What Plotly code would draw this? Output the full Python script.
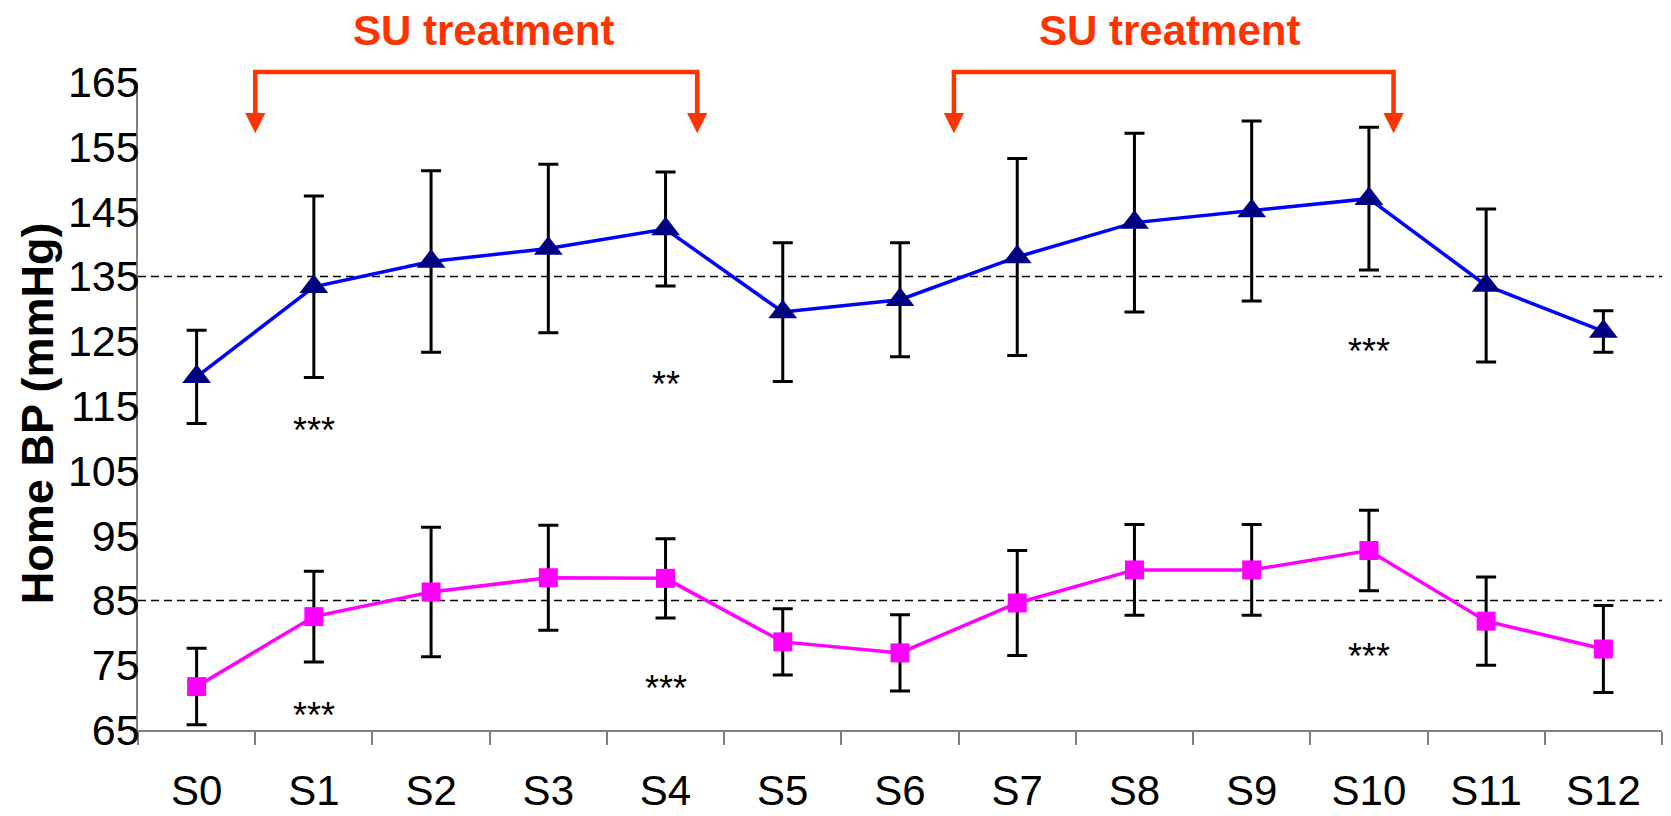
import plotly.graph_objects as go

# ---- data ----
categories = ["S0", "S1", "S2", "S3", "S4", "S5", "S6", "S7", "S8", "S9", "S10", "S11", "S12"]

sbp_mean = [119.5, 133.4, 137.3, 139.3, 142.3, 129.5, 131.4, 138.0, 143.3, 145.1, 147.0, 133.6, 126.5]
sbp_err = [7.2, 14.0, 14.0, 13.0, 8.8, 10.7, 8.8, 15.2, 13.8, 13.9, 11.0, 11.8, 3.2]

dbp_mean = [71.7, 82.5, 86.3, 88.5, 88.4, 78.6, 76.9, 84.6, 89.7, 89.7, 92.7, 81.8, 77.5]
dbp_err = [5.9, 7.0, 10.0, 8.1, 6.1, 5.1, 5.9, 8.1, 7.0, 7.0, 6.2, 6.8, 6.7]

y_ticks = [65, 75, 85, 95, 105, 115, 125, 135, 145, 155, 165]
y_range = [65, 165]
ref_lines = [135, 85]
y_title = "Home BP (mmHg)"

# significance marks: (category, y of glyph centre, text)
sig_sbp = [("S1", 112.4, "***"), ("S4", 119.5, "**"), ("S10", 124.6, "***")]
sig_dbp = [("S1", 68.4, "***"), ("S4", 72.6, "***"), ("S10", 77.6, "***")]

# treatment periods: (start, end) on the category scale, label position
treat_periods = [(0.5, 4.27), (6.46, 10.21)]
treat_label_x = [2.45, 8.3]
treat_label = "SU treatment"
arrow_tip_value = 157.1

FONT = "Arial, Liberation Sans, sans-serif"
RED = "#FF3300"

fig = go.Figure()

fig.add_trace(go.Scatter(
    x=categories, y=sbp_mean, mode="lines+markers",
    line=dict(color="#0000FF", width=3.5),
    marker=dict(symbol="triangle-up", size=25, color="#000080"),
    error_y=dict(type="data", array=sbp_err, visible=True,
                 color="black", thickness=3, width=10),
    cliponaxis=False, showlegend=False,
))
fig.add_trace(go.Scatter(
    x=categories, y=dbp_mean, mode="lines+markers",
    line=dict(color="#FF00FF", width=3.5),
    marker=dict(symbol="square", size=19, color="#FF00FF"),
    error_y=dict(type="data", array=dbp_err, visible=True,
                 color="black", thickness=3, width=10),
    cliponaxis=False, showlegend=False,
))

shapes = []
for v in ref_lines:
    shapes.append(dict(type="line", xref="paper", yref="y", x0=0, x1=1, y0=v, y1=v,
                       line=dict(color="black", width=1.5, dash="8px,5px"), layer="below"))

bracket_y = 1.0155
head_base_y = 0.946
annotations = []
for (x0, x1), lx in zip(treat_periods, treat_label_x):
    shapes.append(dict(type="path", xref="x", yref="paper",
                       path=f"M {x0},{head_base_y} L {x0},{bracket_y} L {x1},{bracket_y} L {x1},{head_base_y}",
                       line=dict(color=RED, width=4.5)))
    for xe in (x0, x1):
        annotations.append(dict(xref="x", yref="y", x=xe, y=arrow_tip_value, text="",
                                showarrow=True, axref="pixel", ayref="pixel", ax=0, ay=-22,
                                arrowhead=2, arrowsize=0.9, arrowwidth=4.5, arrowcolor=RED))
    annotations.append(dict(xref="x", yref="paper", x=lx, y=1.08, yanchor="middle",
                            text=treat_label, showarrow=False,
                            font=dict(family=FONT, size=42, color=RED, weight="bold")))

for cat, yv, t in sig_sbp + sig_dbp:
    annotations.append(dict(xref="x", yref="y", x=cat, y=yv, text=t, showarrow=False,
                            yshift=-8, font=dict(family=FONT, size=36, color="black")))

# y axis title as a rotated annotation for precise placement
annotations.append(dict(xref="paper", yref="paper", x=0, y=0.489, xshift=-101,
                        xanchor="center", yanchor="middle", textangle=-90,
                        text=y_title, showarrow=False,
                        font=dict(family=FONT, size=45, color="black", weight="bold")))

# the page has an 8px body margin, so the figure is a little smaller and margins are offset
fig.update_layout(
    width=1663, height=808,
    margin=dict(l=130, r=9, t=74, b=86),
    paper_bgcolor="white", plot_bgcolor="white",
    font=dict(family=FONT, color="black"),
    shapes=shapes, annotations=annotations,
)
fig.update_xaxes(
    type="category", categoryorder="array", categoryarray=categories,
    range=[-0.5, 12.5], tickson="boundaries", ticks="outside", ticklen=13,
    tickcolor="#808080", tickwidth=1.5, showline=True, linecolor="#808080", linewidth=1.5,
    showgrid=False, zeroline=False, tickfont=dict(family=FONT, size=42, color="black"),
    ticklabelstandoff=23, automargin=False,
)
fig.update_yaxes(
    range=y_range, tickvals=y_ticks, ticks="outside", ticklen=6,
    tickcolor="#808080", tickwidth=1.5, showline=True, linecolor="#808080", linewidth=1.5,
    showgrid=False, zeroline=False, tickfont=dict(family=FONT, size=43, color="black"),
    ticklabelstandoff=-18, automargin=False,
)

fig.write_html("out.html")
